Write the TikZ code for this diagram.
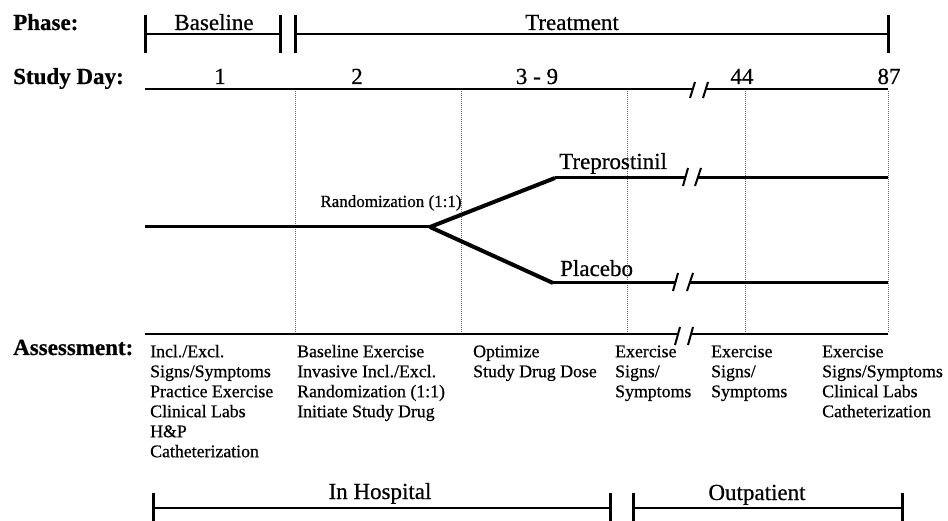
\documentclass[tikz,border=0pt]{standalone}
\usepackage{fontspec}
\setmainfont{Liberation Serif}[FakeBold=0.6]
\begin{document}
\begin{tikzpicture}[x=1pt,y=-1pt,
  hd/.style={font=\fontsize{23}{27}\selectfont\bfseries, inner sep=0pt, anchor=base west},
  big/.style={font=\fontsize{23}{27}\selectfont, inner sep=0pt, anchor=base},
  bigw/.style={font=\fontsize{23}{27}\selectfont, inner sep=0pt, anchor=base west},
  small/.style={font=\fontsize{17}{20}\selectfont, inner sep=0pt, anchor=base},
  asm/.style={font=\fontsize{17.8}{20}\selectfont, inner sep=0pt, anchor=north west, align=left},
  bar/.style={line width=2.4pt},
  tickm/.style={line width=3pt},
  axis/.style={line width=2.6pt},
  arm/.style={line width=3pt},
  branch/.style={line width=4pt},
  gridl/.style={black!60, line width=0.7pt, dash pattern=on 1pt off 1pt},
  brk/.style={line width=2pt},
]
\useasboundingbox (0,0) rectangle (948,521);

% ---------- grid (dotted verticals) ----------
\foreach \gx/\nm in {295/ga,461/gb,627/gc,745/gd,888/ge}{
  \coordinate (\nm top) at (\gx,91);
  \coordinate (\nm bot) at (\gx,332);
  \draw[gridl] (\nm top) -- (\nm bot);
}

% ---------- Phase row ----------
\node[hd] (phase) at (13,30) {Phase:};
\coordinate (bL) at (145,34);
\coordinate (bR) at (280,34);
\coordinate (tL) at (295,34);
\coordinate (tR) at (888,34);
\draw[bar] (bL) -- (bR);
\draw[bar] (tL) -- (tR);
\foreach \c in {bL,bR,tL,tR}{
  \draw[tickm] ([yshift=19pt]\c) -- ([yshift=-19pt]\c);
}
\node[big] (baseline) at (214,30) {Baseline};
\node[big] (treatment) at (572,30) {Treatment};

% ---------- Study day row ----------
\node[hd] (studyday) at (13,84) {Study Day:};
\coordinate (dA) at (145,89);
\coordinate (dB) at (692,89);
\coordinate (dC) at (706,89);
\coordinate (dD) at (888,89);
\draw[axis] (dA) -- (dB);
\draw[axis] (dC) -- (dD);
\coordinate (ds1a) at (690,98); \coordinate (ds1b) at (695,82);
\coordinate (ds2a) at (703,98); \coordinate (ds2b) at (708,82);
\draw[brk] (ds1a) -- (ds1b);
\draw[brk] (ds2a) -- (ds2b);
\node[big] (d1) at (220,84) {1};
\node[big] (d2) at (357,84) {2};
\node[big] (d39) at (537,84) {3 - 9};
\node[big] (d44) at (742,84) {44};
\node[big] (d87) at (889,84) {87};

% ---------- Randomization arms ----------
\coordinate (start) at (145,227);
\coordinate (split) at (430,227);
\coordinate (tb) at (555,178);
\coordinate (tk1) at (686,178);
\coordinate (tk2) at (698,178);
\coordinate (tend) at (888,178);
\coordinate (pb) at (553,283);
\coordinate (pk1) at (676,283);
\coordinate (pk2) at (690,283);
\coordinate (pend) at (888,283);
\draw[arm] (start) -- (split);
\draw[branch, line join=miter] (split) -- (tb);
\draw[branch] (split) -- (pb);
\draw[arm] (tb) -- (tk1);
\draw[arm] (tk2) -- (tend);
\draw[arm] (pb) -- (pk1);
\draw[arm] (pk2) -- (pend);
\coordinate (ts1a) at (683,186); \coordinate (ts1b) at (688,168);
\coordinate (ts2a) at (695,186); \coordinate (ts2b) at (701,168);
\draw[brk] (ts1a) -- (ts1b);
\draw[brk] (ts2a) -- (ts2b);
\coordinate (ps1a) at (673,291); \coordinate (ps1b) at (678,273);
\coordinate (ps2a) at (687,291); \coordinate (ps2b) at (693,273);
\draw[brk] (ps1a) -- (ps1b);
\draw[brk] (ps2a) -- (ps2b);
\node[small] (rand) at (391,207) {Randomization (1:1)};
\node[bigw] (trep) at (559,169) {Treprostinil};
\node[bigw] (plac) at (560,276) {Placebo};

% ---------- Assessment row ----------
\coordinate (aA) at (145,334);
\coordinate (aB) at (678,334);
\coordinate (aC) at (691,334);
\coordinate (aD) at (888,334);
\draw[axis] (aA) -- (aB);
\draw[axis] (aC) -- (aD);
\coordinate (as1a) at (675,345); \coordinate (as1b) at (680,327);
\coordinate (as2a) at (688,345); \coordinate (as2b) at (693,327);
\draw[brk] (as1a) -- (as1b);
\draw[brk] (as2a) -- (as2b);
\node[hd] (assess) at (13,355) {Assessment:};
\node[asm] (c1) at (150,343) {\strut Incl./Excl.\\Signs/Symptoms\\Practice Exercise\\Clinical Labs\\H\&P\\Catheterization};
\node[asm] (c2) at (297,343) {\strut Baseline Exercise\\Invasive Incl./Excl.\\Randomization (1:1)\\Initiate Study Drug};
\node[asm] (c3) at (473,343) {\strut Optimize\\Study Drug Dose};
\node[asm] (c4) at (615,343) {\strut Exercise\\Signs/\\Symptoms};
\node[asm] (c5) at (711,343) {\strut Exercise\\Signs/\\Symptoms};
\node[asm] (c6) at (822,343) {\strut Exercise\\Signs/Symptoms\\Clinical Labs\\Catheterization};

% ---------- Location row ----------
\coordinate (hL) at (153,508);
\coordinate (hR) at (610,508);
\coordinate (oL) at (633,508);
\coordinate (oR) at (902,508);
\draw[bar] (hL) -- (hR);
\draw[bar] (oL) -- (oR);
\foreach \c in {hL,hR,oL,oR}{
  \draw[tickm] ([yshift=15pt]\c) -- ([yshift=-16pt]\c);
}
\node[big] (hosp) at (380,499) {In Hospital};
\node[big] (outp) at (757,500) {Outpatient};
\end{tikzpicture}
\end{document}
